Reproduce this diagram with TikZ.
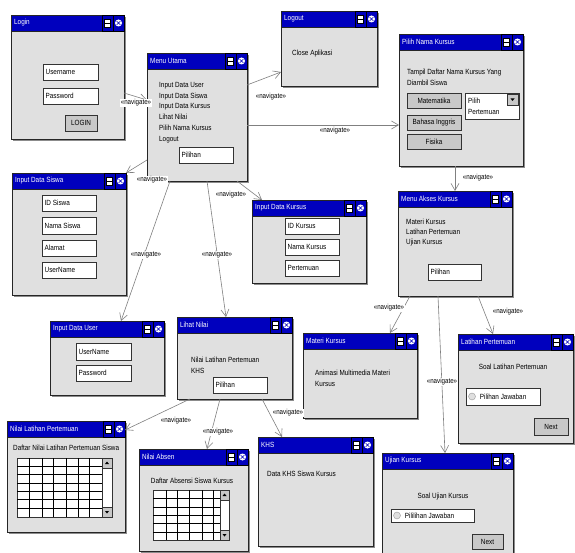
\documentclass[tikz,border=0pt]{standalone}
\usepackage{fontspec}
\setmainfont[FakeStretch=0.85]{Liberation Sans}
\usetikzlibrary{arrows.meta, shadows}

\definecolor{titleblue}{RGB}{0,0,190}
\definecolor{winfill}{RGB}{224,224,224}
\definecolor{btnfill}{RGB}{200,200,200}

\tikzset{
  winbody/.style={draw=black!85, fill=winfill, line width=0.8pt, inner sep=0pt, outer sep=0pt, anchor=north west,
    drop shadow={shadow xshift=2pt, shadow yshift=-2pt, fill=black!45, opacity=1}},
  winbar/.style={draw=black!85, fill=titleblue, line width=0.6pt, minimum height=16pt, inner sep=0pt, outer sep=0pt, anchor=north west},
  winicon/.style={draw=black, fill=titleblue, line width=0.6pt, minimum width=11pt, minimum height=16pt, inner sep=0pt, outer sep=0pt, anchor=north east},
  wintitle/.style={text=white, inner sep=0pt, anchor=west},
  field/.style={draw=black!80, fill=white, line width=0.6pt, inner sep=0pt, outer sep=0pt, anchor=north west},
  button/.style={draw=black!80, fill=btnfill, line width=0.7pt, inner sep=0pt, outer sep=0pt, anchor=north west},
  txt/.style={inner sep=0pt, anchor=north west, align=left},
  nav/.style={draw=black!50, line width=0.6pt, -{Straight Barb[length=7pt,width=8pt]}},
  navlbl/.style={fill=white, inner sep=0.5pt, font=\fontsize{7.3}{8}\selectfont},
}

% window: name, left, top, width, height, title
\newcommand{\uiwin}[6]{%
  \node[winbody, minimum width=#4pt, minimum height=#5pt] (#1) at (#2,#3) {};
  \node[winbar, minimum width=#4pt] (#1-bar) at (#1.north west) {};
  \node[wintitle] (#1-ttl) at ([xshift=3pt]#1-bar.west) {#6};
  \node[winicon] (#1-cls) at (#1.north east) {};
  \node[winicon] (#1-max) at (#1-cls.north west) {};
  \node[draw=black, fill=white, line width=0.5pt, minimum width=6pt, minimum height=8pt, inner sep=0pt] (#1-mg) at (#1-max.center) {};
  \draw[line width=0.9pt] (#1-mg.west) -- (#1-mg.east);
  \node[circle, fill=white, minimum size=7pt, inner sep=0pt] (#1-cg) at (#1-cls.center) {};
  \draw[titleblue, line width=0.6pt] ([shift={(-1.8pt,-1.8pt)}]#1-cg.center) -- ([shift={(1.8pt,1.8pt)}]#1-cg.center)
    ([shift={(-1.8pt,1.8pt)}]#1-cg.center) -- ([shift={(1.8pt,-1.8pt)}]#1-cg.center);
}
% text field: name, left, top, width, height, text
\newcommand{\uifield}[6]{%
  \node[field, minimum width=#4pt, minimum height=#5pt] (#1) at (#2,#3) {};
  \node[inner sep=0pt, anchor=west] (#1-txt) at ([xshift=2.5pt]#1.west) {#6};
}
\newcommand{\uibutton}[6]{%
  \node[button, minimum width=#4pt, minimum height=#5pt] (#1) at (#2,#3) {#6};
}
\newcommand{\uiradio}[6]{%
  \node[field, minimum width=#4pt, minimum height=#5pt] (#1) at (#2,#3) {};
  \node[circle, draw=black!40, fill=gray!25, minimum size=7pt, inner sep=0pt] (#1-dot) at ([xshift=6pt]#1.west) {};
  \node[inner sep=0pt, anchor=west] (#1-txt) at ([xshift=4pt]#1-dot.east) {#6};
}

\begin{document}
\begin{tikzpicture}[x=1pt, y=-1pt, font=\fontsize{7.5}{10.5}\selectfont]
  \useasboundingbox[fill=white] (0,0) rectangle (575,553);

  % login
  \uiwin{login}{11}{15}{113}{124}{Login}
  \uifield{login-user}{43}{64}{55}{16}{Username}
  \uifield{login-pass}{43}{88}{55}{16}{Password}
  \uibutton{login-btn}{65}{115}{32}{16}{LOGIN}

  % menu utama
  \uiwin{menu}{147}{53}{100}{128}{Menu Utama}
  \node[txt, font=\fontsize{7.5}{10.8}\selectfont] (menu-list) at (159,82)
    {Input Data User\\Input Data Siswa\\Input Data Kursus\\Lihat Nilai\\Pilih Nama Kursus\\Logout};
  \uifield{menu-pil}{179}{147}{54}{16}{Pilihan}

  % logout
  \uiwin{logout}{281}{11}{96}{75}{Logout}
  \node[txt] (logout-txt) at (292,50) {Close Aplikasi};

  % pilih nama kursus
  \uiwin{pilih}{399}{34}{124}{132}{Pilih Nama Kursus}
  \node[txt] (pilih-txt) at (407,69) {Tampil Daftar Nama Kursus Yang\\Diambil Siswa};
  \uibutton{pilih-mat}{407}{93}{54}{15}{Matematika}
  \uibutton{pilih-bing}{407}{115}{54}{15}{Bahasa Inggris}
  \uibutton{pilih-fis}{407}{134}{54}{15}{Fisika}
  \node[field, minimum width=54pt, minimum height=26pt] (pilih-drop) at (465,93) {};
  \node[txt, font=\fontsize{7.5}{11}\selectfont] (pilih-drop-txt) at (468,98) {Pilih\\Pertemuan};
  \node[button, minimum width=11pt, minimum height=11pt, anchor=north east] (pilih-arr) at ([shift={(-1pt,-1pt)}]pilih-drop.north east) {};
  \fill ([shift={(-2pt,1pt)}]pilih-arr.center) -- ([shift={(2pt,1pt)}]pilih-arr.center) -- ([shift={(0pt,-1.5pt)}]pilih-arr.center) -- cycle;

  % input data siswa
  \uiwin{siswa}{12}{173}{114}{122}{Input Data Siswa}
  \uifield{siswa-id}{42}{195}{54}{16}{ID Siswa}
  \uifield{siswa-nama}{42}{217}{54}{17}{Nama Siswa}
  \uifield{siswa-alamat}{42}{240}{54}{16}{Alamat}
  \uifield{siswa-user}{42}{262}{54}{16}{UserName}

  % input data kursus
  \uiwin{kursus}{252}{200}{114}{83}{Input Data Kursus}
  \uifield{kursus-id}{285}{218}{54}{16}{ID Kursus}
  \uifield{kursus-nama}{285}{239}{54}{16}{Nama Kursus}
  \uifield{kursus-pert}{285}{260}{54}{16}{Pertemuan}

  % menu akses kursus
  \uiwin{akses}{398}{191}{114}{105}{Menu Akses Kursus}
  \node[txt, font=\fontsize{7.5}{10}\selectfont] (akses-list) at (406,219) {Materi Kursus\\Latihan Pertemuan\\Ujian Kursus};
  \uifield{akses-pil}{428}{264}{53}{16}{Pilihan}

  % input data user
  \uiwin{user}{50}{321}{114}{74}{Input Data User}
  \uifield{user-name}{76}{343}{55}{17}{UserName}
  \uifield{user-pass}{76}{365}{55}{16}{Password}

  % lihat nilai
  \uiwin{lihat}{177}{317}{115}{82}{Lihat Nilai}
  \node[txt] (lihat-list) at (191,357) {Nilai Latihan Pertemuan\\KHS};
  \uifield{lihat-pil}{213}{377}{54}{16}{Pilihan}

  % materi kursus
  \uiwin{materi}{303}{333}{114}{85}{Materi Kursus}
  \node[txt] (materi-txt) at (315,370) {Animasi Multimedia Materi\\Kursus};

  % latihan pertemuan
  \uiwin{latihan}{458}{334}{115}{109}{Latihan Pertemuan}
  \node[inner sep=0pt, anchor=north] (latihan-txt) at (513,364) {Soal Latihan Pertemuan};
  \uiradio{latihan-jwb}{466}{388}{74}{17}{Pilihan Jawaban}
  \uibutton{latihan-next}{534}{418}{34}{17}{Next}

  % nilai latihan pertemuan
  \uiwin{nilailp}{7}{421}{118}{111}{Nilai Latihan Pertemuan}
  \node[txt] (nilailp-txt) at (13,445) {Daftar Nilai Latihan Pertemuan Siswa};
  \node[field, minimum width=85pt, minimum height=59pt] (nilailp-tab) at (17,458) {};
  \foreach \gx in {29,42,53,66,78,89}
    \draw[line width=0.6pt] (\gx,458) -- (\gx,517);
  \foreach \gy in {466,474,483,491,499,508}
    \draw[line width=0.6pt] (17,\gy) -- (102,\gy);
  \node[field, minimum width=10pt, minimum height=59pt] (nilailp-sb) at (102,458) {};
  \node[button, minimum width=10pt, minimum height=10pt] (nilailp-up) at (102,458) {};
  \node[button, minimum width=10pt, minimum height=10pt, anchor=south west] (nilailp-dn) at (102,517) {};
  \fill ([shift={(-2pt,-1pt)}]nilailp-up.center) -- ([shift={(2pt,-1pt)}]nilailp-up.center) -- ([shift={(0pt,1.5pt)}]nilailp-up.center) -- cycle;
  \fill ([shift={(-2pt,1pt)}]nilailp-dn.center) -- ([shift={(2pt,1pt)}]nilailp-dn.center) -- ([shift={(0pt,-1.5pt)}]nilailp-dn.center) -- cycle;

  % nilai absen
  \uiwin{absen}{139}{449}{109}{102}{Nilai Absen}
  \node[inner sep=0pt, anchor=north] (absen-txt) at (192,478) {Daftar Absensi Siswa Kursus};
  \node[field, minimum width=67pt, minimum height=50pt] (absen-tab) at (153,490) {};
  \foreach \gx in {166,177,189,202,213}
    \draw[line width=0.6pt] (\gx,490) -- (\gx,540);
  \foreach \gy in {498,507,515,523,532}
    \draw[line width=0.6pt] (153,\gy) -- (220,\gy);
  \node[field, minimum width=9pt, minimum height=50pt] (absen-sb) at (220,490) {};
  \node[button, minimum width=9pt, minimum height=10pt] (absen-up) at (220,490) {};
  \node[button, minimum width=9pt, minimum height=10pt, anchor=south west] (absen-dn) at (220,540) {};
  \fill ([shift={(-2pt,-1pt)}]absen-up.center) -- ([shift={(2pt,-1pt)}]absen-up.center) -- ([shift={(0pt,1.5pt)}]absen-up.center) -- cycle;
  \fill ([shift={(-2pt,1pt)}]absen-dn.center) -- ([shift={(2pt,1pt)}]absen-dn.center) -- ([shift={(0pt,-1.5pt)}]absen-dn.center) -- cycle;

  % khs
  \uiwin{khs}{258}{437}{115}{109}{KHS}
  \node[txt] (khs-txt) at (267,471) {Data KHS Siswa Kursus};

  % ujian kursus
  \uiwin{ujian}{382}{453}{131}{105}{Ujian Kursus}
  \node[inner sep=0pt, anchor=north] (ujian-txt) at (443,493) {Soal Ujian Kursus};
  \uiradio{ujian-jwb}{391}{509}{83}{13}{Pililihan Jawaban}
  \uibutton{ujian-next}{472}{534}{31}{15}{Next}

  % navigate links
  \draw[nav] ([yshift=-16pt]login.east) -- ([yshift=17pt]menu.west);
  \draw[nav] ([yshift=32pt]menu.east) -- ([yshift=-23.5pt]logout.west);
  \draw[nav] ([yshift=-8pt]menu.east) -- ([yshift=-25pt]pilih.west);
  \draw[nav] ([xshift=-6pt]pilih.south) -- (akses.north);
  \draw[nav] ([yshift=-43pt]menu.west) -- (siswa.north east);
  \draw[nav] ([xshift=-27pt]menu.south) -- ([xshift=14pt]user.north);
  \draw[nav] ([xshift=10pt]menu.south) -- ([xshift=-8.5pt]lihat.north);
  \draw[nav] ([xshift=40pt]menu.south) -- ([xshift=10pt]kursus.north west);
  \draw[nav] ([xshift=-45pt]akses.south) -- ([xshift=30pt]materi.north);
  \draw[nav] ([xshift=-17pt]akses.south) -- ([xshift=-2.5pt]ujian.north);
  \draw[nav] ([xshift=23pt]akses.south) -- ([xshift=-22.5pt]latihan.north);
  \draw[nav] ([xshift=13pt]lihat.south west) -- ([yshift=-9pt]nilailp.north east);
  \draw[nav] ([xshift=-14.5pt]lihat.south) -- ([xshift=13.5pt]absen.north);
  \draw[nav] ([xshift=27.5pt]lihat.south) -- ([xshift=24pt]khs.north west);

  \node[navlbl] (nv-login) at (136,103) {«navigate»};
  \node[navlbl] (nv-logout) at (271,97) {«navigate»};
  \node[navlbl] (nv-pilih) at (335,131) {«navigate»};
  \node[navlbl] (nv-akses) at (478,178) {«navigate»};
  \node[navlbl] (nv-siswa) at (152,180) {«navigate»};
  \node[navlbl] (nv-user) at (146,255) {«navigate»};
  \node[navlbl] (nv-lihat) at (217,255) {«navigate»};
  \node[navlbl] (nv-kursus) at (231,195) {«navigate»};
  \node[navlbl] (nv-materi) at (389,308) {«navigate»};
  \node[navlbl] (nv-latihan) at (508,312) {«navigate»};
  \node[navlbl] (nv-ujian) at (442,382) {«navigate»};
  \node[navlbl] (nv-nilailp) at (176,421) {«navigate»};
  \node[navlbl] (nv-absen) at (218,432) {«navigate»};
  \node[navlbl] (nv-khs) at (288,413) {«navigate»};
\end{tikzpicture}
\end{document}
